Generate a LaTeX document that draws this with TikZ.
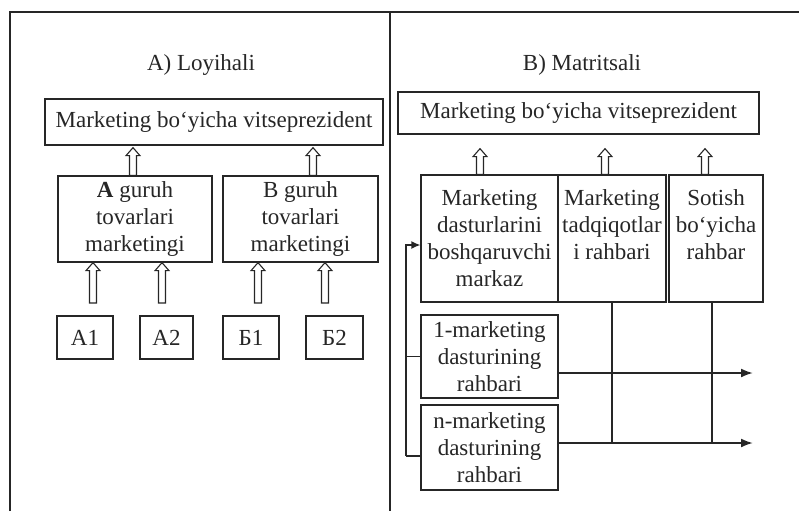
\documentclass[tikz,border=0pt]{standalone}
\usepackage{fontspec}
\setmainfont{Liberation Serif}
\usetikzlibrary{calc,arrows.meta}
\definecolor{ink}{gray}{0.15}
\begin{document}
\begin{tikzpicture}[x=1pt,y=-1pt,
  box/.style={draw=ink, line width=1.3pt, inner sep=0pt, align=center, text=ink,
    font=\fontsize{23}{27}\selectfont},
  ttl/.style={text=ink, inner sep=0pt, font=\fontsize{23}{27}\selectfont},
  ln/.style={draw=ink, line width=1.3pt},
  tip/.style={-{Latex[length=9pt,width=8pt]}},
  bigtip/.style={-{Latex[length=12pt,width=9pt]}},
  hollow/.style={draw=ink, line width=1.1pt, fill=white,
    to path={let \p1=(\tikztostart), \p2=(\tikztotarget) in
      (\x1-3.5pt,\y1) -- (\x1-3.5pt,\y2-8pt) -- (\x1-7pt,\y2-8pt) -- (\x1,\y2)
      -- (\x1+7pt,\y2-8pt) -- (\x1+3.5pt,\y2-8pt) -- (\x1+3.5pt,\y1) -- cycle}}]
\useasboundingbox (0,0) rectangle (799,511);
% frame
\draw[ln] (10,511) -- (10,12) -- (799,12);
\draw[ln] (390,12) -- (390,511);

% ---------- left panel ----------
\node[ttl] (tA) at (201,65) {A) Loyihali};
\node[box, minimum width=338pt, minimum height=46pt] (vpA) at (214,122) {Marketing bo‘yicha vitseprezident};
\node[box, minimum width=154pt, minimum height=86pt] (gA) at (135,219) {\textbf{A} guruh\\tovarlari\\marketingi};
\node[box, minimum width=155pt, minimum height=86pt] (gB) at (300.5,219) {B guruh\\tovarlari\\marketingi};
\node[box, minimum width=56pt, minimum height=43pt] (A1) at (85,337.5) {A1};
\node[box, minimum width=53pt, minimum height=43pt] (A2) at (166.5,337.5) {A2};
\node[box, minimum width=56pt, minimum height=43pt] (B1) at (251,337.5) {Б1};
\node[box, minimum width=57pt, minimum height=43pt] (B2) at (334.5,337.5) {Б2};

\coordinate (ua) at (133,0);
\coordinate (ub) at (313,0);
\draw[hollow] (gA.north -| ua) to ($(vpA.south -| ua)+(0,2)$);
\draw[hollow] (gB.north -| ub) to ($(vpA.south -| ub)+(0,2)$);

\coordinate (a1) at (93,303);
\coordinate (a2) at (162,303);
\coordinate (b1) at (258,303);
\coordinate (b2) at (325,303);
\draw[hollow] (a1) to (a1 |- gA.south);
\draw[hollow] (a2) to (a2 |- gA.south);
\draw[hollow] (b1) to (b1 |- gB.south);
\draw[hollow] (b2) to (b2 |- gB.south);

% ---------- right panel ----------
\node[ttl] (tB) at (582,65) {B) Matritsali};
\node[box, minimum width=361pt, minimum height=42pt] (vpB) at (578.5,113) {Marketing bo‘yicha vitseprezident};
\node[box, minimum width=137pt, minimum height=127pt] (m1) at (489.5,238.5) {Marketing\\dasturlarini\\boshqaruvchi\\markaz};
\node[box, minimum width=108pt, minimum height=127pt] (m2) at (612,238.5) {Marketing\\tadqiqotlar\\i rahbari\\~};
\node[box, minimum width=94pt, minimum height=127pt] (m3) at (716,238.5) {Sotish\\bo‘yicha\\rahbar\\~};
\node[box, minimum width=137pt, minimum height=83pt] (p1) at (489.5,356.5) {1-marketing\\dasturining\\rahbari};
\node[box, minimum width=137pt, minimum height=85pt] (pn) at (489.5,447.5) {n-marketing\\dasturining\\rahbari};

\coordinate (r1) at (480,0);
\coordinate (r2) at (605,0);
\coordinate (r3) at (705,0);
\draw[hollow] (m1.north -| r1) to ($(vpB.south -| r1)+(0,14)$);
\draw[hollow] (m2.north -| r2) to ($(vpB.south -| r2)+(0,14)$);
\draw[hollow] (m3.north -| r3) to ($(vpB.south -| r3)+(0,14)$);

% bracket on the left
\coordinate (k1) at (406,245);
\coordinate (k2) at (406,456);
\draw[ln,tip] (k2) -- (k1) -- (k1 -| m1.west);
\draw[ln] (k1 |- p1.west) -- (p1.west);
\draw[ln] (k2) -- (k2 -| pn.west);

% matrix lines
\coordinate (e1) at (753,373);
\coordinate (e2) at (753,443);
\coordinate (v3) at (712,0);
\draw[ln] (m2.south) -- (m2.south |- e2);
\draw[ln] (v3 |- m3.south) -- (v3 |- e2);
\draw[ln,line width=2pt,bigtip] (e1 -| p1.east) -- (e1);
\draw[ln,line width=2pt,bigtip] (e2 -| pn.east) -- (e2);
\end{tikzpicture}
\end{document}
